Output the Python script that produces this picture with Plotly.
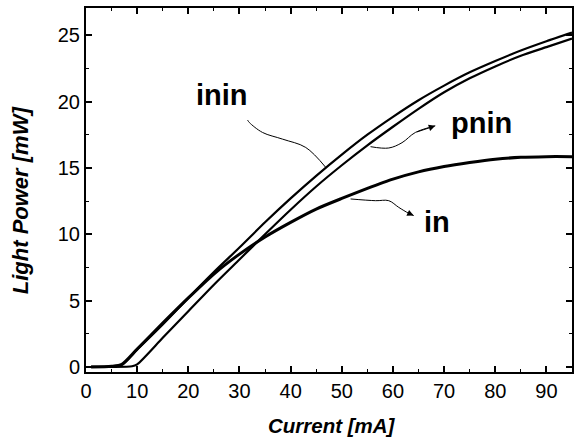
import plotly.graph_objects as go

# ---- data ----
current = [1, 5, 7, 10, 15, 20, 25, 30, 35, 40, 45, 50, 55, 60, 65, 70, 75, 80, 85, 90, 95]
inin = [0.0, 0.05, 0.15, 1.3, 3.2, 5.2, 7.15, 9.0, 10.9, 12.7, 14.4, 16.0, 17.5, 18.85, 20.1, 21.2, 22.2, 23.05, 23.85, 24.55, 25.2]
in_ = [0.0, 0.05, 0.2, 1.35, 3.3, 5.2, 7.0, 8.5, 9.8, 10.9, 11.9, 12.7, 13.45, 14.15, 14.7, 15.1, 15.4, 15.65, 15.8, 15.85, 15.85]
pnin_current = [1, 5, 9, 10, 15, 20, 25, 30, 35, 40, 45, 50, 55, 60, 65, 70, 75, 80, 85, 90, 95]
pnin = [0.0, 0.0, 0.05, 0.2, 2.2, 4.2, 6.2, 8.1, 10.0, 11.85, 13.6, 15.2, 16.7, 18.1, 19.45, 20.7, 21.75, 22.65, 23.45, 24.1, 24.75]

x_ticks = [0, 10, 20, 30, 40, 50, 60, 70, 80, 90]
y_ticks = [0, 5, 10, 15, 20, 25]

# label arrows (curved leader lines, data coordinates)
inin_arrow_x = [46.86, 42.96, 38.41, 34.51, 31.93, 31.59]
inin_arrow_y = [15.04, 16.54, 17.17, 17.67, 18.42, 18.6]
pnin_arrow_x = [55.62, 59.18, 61.77, 64.38, 68.27]
pnin_arrow_y = [16.6, 16.5, 16.9, 17.67, 18.17]
in_arrow_x = [51.72, 56.59, 59.18, 61.12, 63.07, 64.05]
in_arrow_y = [12.66, 12.53, 12.53, 12.03, 11.58, 11.41]

labels = ["inin", "pnin", "in"]
label_x = [26.6, 77.3, 68.7]
label_y = [20.5, 18.4, 10.9]

FONT = "Arial, Liberation Sans, Helvetica, sans-serif"

fig = go.Figure()
fig.add_trace(go.Scatter(x=current, y=inin, mode="lines", name="inin",
                         line=dict(color="black", width=2.2, shape="spline", smoothing=0.7)))
fig.add_trace(go.Scatter(x=pnin_current, y=pnin, mode="lines", name="pnin",
                         line=dict(color="black", width=2.2, shape="spline", smoothing=0.7)))
fig.add_trace(go.Scatter(x=current, y=in_, mode="lines", name="in",
                         line=dict(color="black", width=3, shape="spline", smoothing=0.7)))

for ax_, ay_ in [(inin_arrow_x, inin_arrow_y), (pnin_arrow_x, pnin_arrow_y), (in_arrow_x, in_arrow_y)]:
    fig.add_trace(go.Scatter(x=ax_, y=ay_, mode="lines",
                             line=dict(color="black", width=1, shape="spline", smoothing=1.0),
                             hoverinfo="skip"))
    # arrowhead at the end of the leader
    fig.add_annotation(x=ax_[-1], y=ay_[-1], ax=ax_[-2], ay=ay_[-2],
                       xref="x", yref="y", axref="x", ayref="y",
                       showarrow=True, arrowhead=2, arrowsize=1.3, arrowwidth=1,
                       arrowcolor="black", text="")

for t, lx, ly in zip(labels, label_x, label_y):
    fig.add_annotation(x=lx, y=ly, xref="x", yref="y", text="<b>" + t + "</b>",
                       showarrow=False, font=dict(family=FONT, size=29, color="black"))

# axis titles
fig.add_annotation(x=0.506, y=-0.148, xref="paper", yref="paper",
                   xanchor="center", yanchor="middle",
                   text="<b><i>Current [mA]</i></b>", showarrow=False,
                   font=dict(family=FONT, size=20.5, color="black"))
fig.add_annotation(x=-0.135, y=0.473, xref="paper", yref="paper",
                   xanchor="center", yanchor="middle",
                   text="<b><i>Light Power [mW]</i></b>", showarrow=False, textangle=-90,
                   font=dict(family=FONT, size=22, color="black"))

axis_common = dict(
    showline=True, linecolor="black", linewidth=2, mirror="ticks",
    ticks="inside", ticklen=6, tickwidth=1.5, tickcolor="black",
    showgrid=False, zeroline=False,
    tickfont=dict(family=FONT, size=20, color="black"),
)

fig.update_xaxes(range=[0, 95], tickvals=x_ticks,
                 minor=dict(ticks="inside", ticklen=3, tickwidth=1.2, tickcolor="black", dtick=5),
                 **axis_common)
fig.update_yaxes(range=[-0.38, 27.05], tickvals=y_ticks,
                 minor=dict(ticks="inside", ticklen=3, tickwidth=1.2, tickcolor="black", dtick=2.5),
                 **axis_common)

fig.update_layout(
    width=580, height=439,
    margin=dict(l=86, r=6, t=7, b=67),
    paper_bgcolor="white", plot_bgcolor="white",
    showlegend=False,
    font=dict(family=FONT, color="black"),
)

fig.write_html("out.html")
